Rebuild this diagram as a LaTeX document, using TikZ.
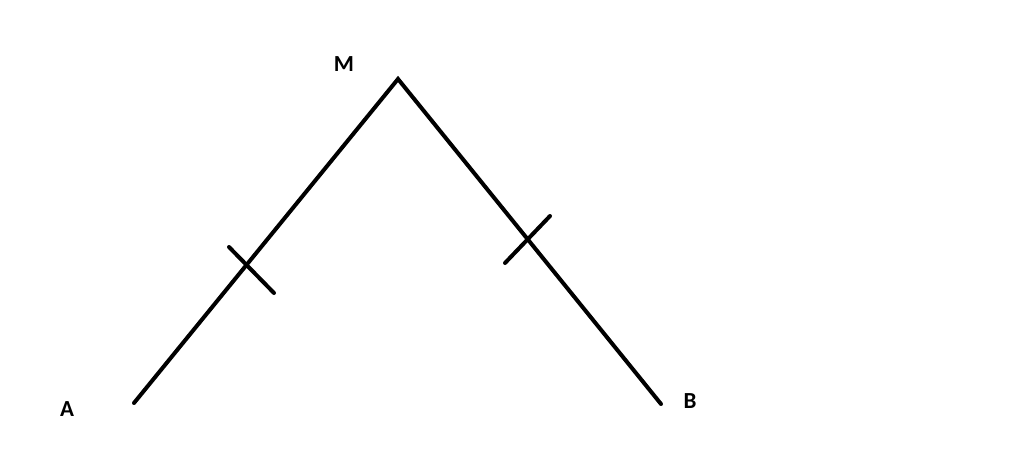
\documentclass[tikz,border=0pt]{standalone}
\usepackage{fontspec}
\setmainfont{Carlito}
\begin{document}
\begin{tikzpicture}[x=1pt,y=-1pt,
  seg/.style={line width=4pt,line cap=round,black},
  lbl/.style={font=\fontsize{23}{26}\selectfont\bfseries,inner sep=0pt}]
\useasboundingbox (0,0) rectangle (1024,469);
\coordinate (M) at (398,79);
\coordinate (A) at (134,403);
\coordinate (B) at (661,404);
\coordinate (t1a) at (229,247);
\coordinate (t1b) at (274,293);
\coordinate (t2a) at (505,263);
\coordinate (t2b) at (550,216);
\draw[seg] (A) -- (M) -- (B);
\draw[seg] (t1a) -- (t1b);
\draw[seg] (t2a) -- (t2b);
\node[lbl] (lM) at (344,64) {M};
\node[lbl] (lA) at (67,409) {A};
\node[lbl] (lB) at (690,401) {B};
\end{tikzpicture}
\end{document}
